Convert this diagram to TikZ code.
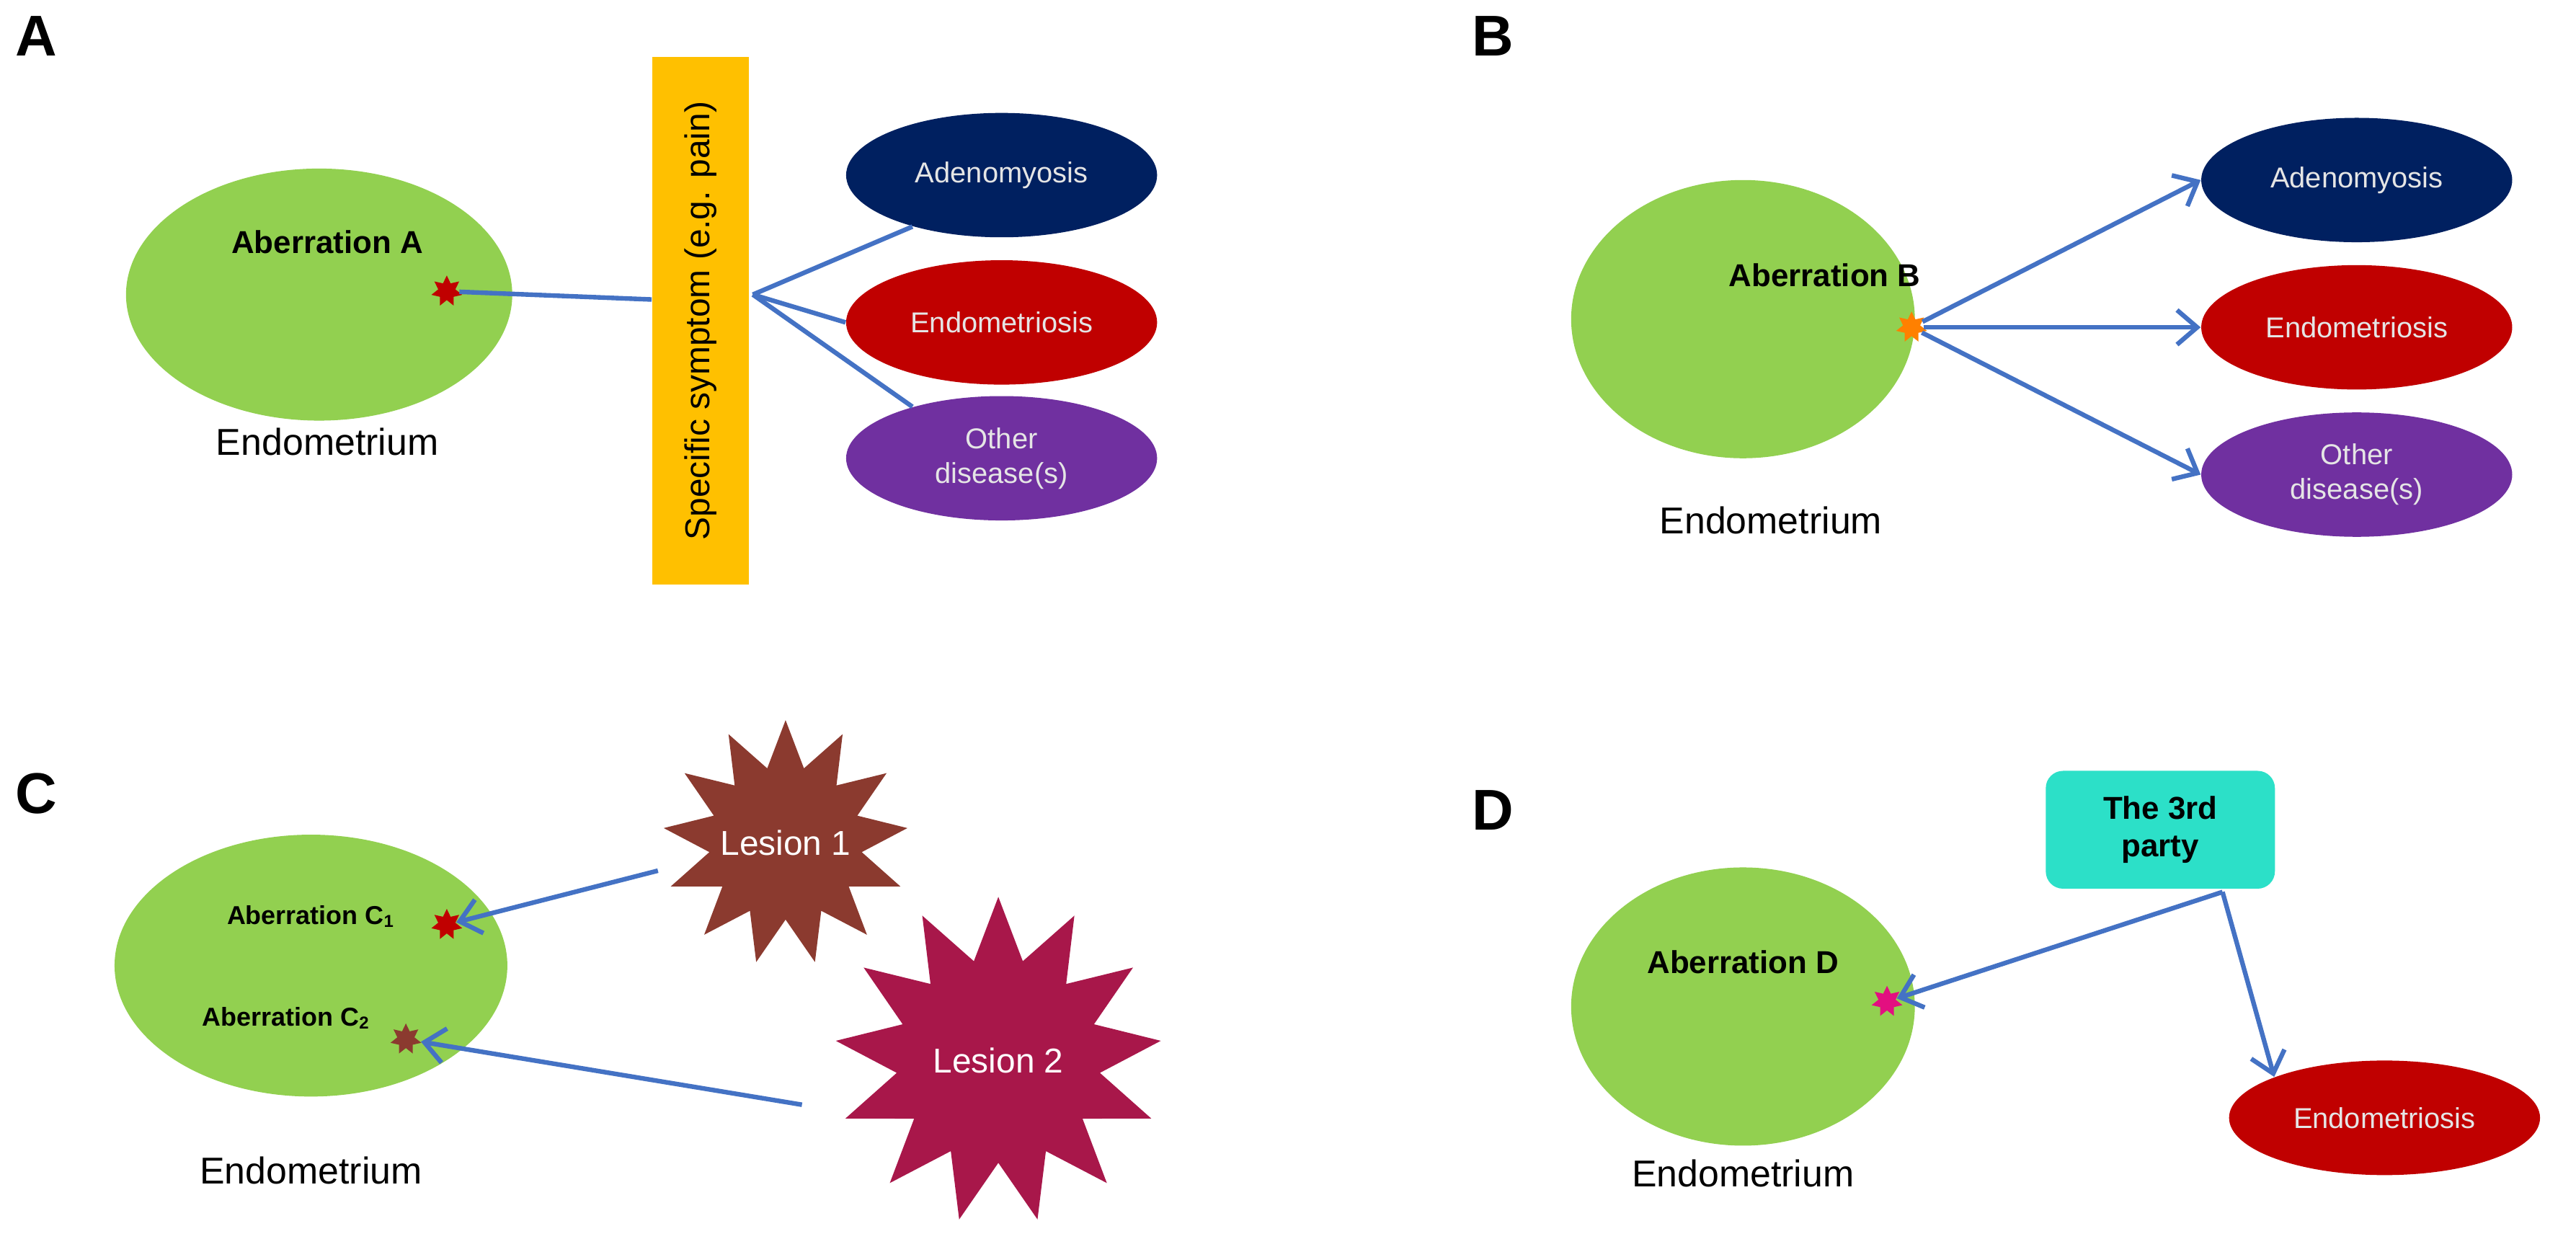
\documentclass[tikz,border=0pt]{standalone}
\usepackage{fontspec}
\setmainfont{Liberation Sans}
\usetikzlibrary{shapes.geometric,arrows.meta}
\definecolor{tissue}{HTML}{92D050}
\definecolor{navy}{HTML}{002060}
\definecolor{dred}{HTML}{C00000}
\definecolor{purp}{HTML}{7030A0}
\definecolor{arr}{HTML}{4472C4}
\definecolor{symp}{HTML}{FFC000}
\definecolor{les1}{HTML}{8B3A2F}
\definecolor{les2}{HTML}{A8174A}
\definecolor{third}{HTML}{2CE0C8}
\begin{document}
\begin{tikzpicture}[x=0.02cm,y=-0.02cm,
  tissue/.style={ellipse,fill=tissue,minimum width=#1},
  dis/.style={ellipse,fill=#1,text=white!90!black,minimum width=190*0.02cm,minimum height=76*0.02cm,align=center,font=\fontsize{10}{12}\selectfont},
  spot/.style={star,star points=7,star point ratio=1.8,fill=#1,inner sep=0pt,minimum size=11pt},
  lbl/.style={font=\bfseries\fontsize{11}{13}\selectfont},
  endo/.style={font=\fontsize{13}{15}\selectfont},
  panel/.style={font=\bfseries\fontsize{20}{22}\selectfont},
  link/.style={draw=arr,line width=1.6pt},
  arrow/.style={link,-{Straight Barb[length=7pt,width=12pt]}},
  lesion/.style={star,star points=13,star point ratio=1.6,fill=#1,inner sep=0pt}]
\useasboundingbox (0,0) rectangle (1574,757);
% panel A
\node[panel] (pa) at (22,22) {A};
\node[tissue, minimum width=236*0.02cm, minimum height=154*0.02cm] (ea) at (195,180) {};
\node[lbl] (la) at (200,148) {Aberration A};
\node[spot=dred] (sa) at (273,178) {};
\node[endo] (ta) at (200,270) {Endometrium};
\node[fill=symp,minimum width=59*0.02cm,minimum height=322*0.02cm,inner sep=0pt] (sy) at (428,196) {};
\node[rotate=90,font=\fontsize{12}{14}\selectfont] (syt) at (sy) {Specific symptom (e.g. pain)};
\coordinate (hub) at (460,180);
\node[dis=navy] (a1) at (612,107) {Adenomyosis};
\node[dis=dred] (a2) at (612,197) {Endometriosis};
\node[dis=purp] (a3) at (612,280) {Other\\disease(s)};
\draw[link] (sa) -- (sy.west |- 0,183);
\draw[link] (hub) -- (a1.210);
\draw[link] (hub) -- (a2.west);
\draw[link] (hub) -- (a3.150);
% panel B
\node[panel] (pb) at (912,22) {B};
\node[tissue, minimum width=210*0.02cm, minimum height=170*0.02cm] (eb) at (1065,195) {};
\node[lbl] (lb) at (1115,168) {Aberration B};
\node[spot=orange] (sb) at (1168,200) {};
\node[endo] (tb) at (1082,318) {Endometrium};
\node[dis=navy] (b1) at (1440,110) {Adenomyosis};
\node[dis=dred] (b2) at (1440,200) {Endometriosis};
\node[dis=purp] (b3) at (1440,290) {Other\\disease(s)};
\draw[arrow] (sb) -- (b1.west);
\draw[arrow] (sb) -- (b2.west);
\draw[arrow] (sb) -- (b3.west);
% panel C
\node[panel] (pc) at (22,485) {C};
\node[tissue, minimum width=240*0.02cm, minimum height=160*0.02cm] (ec) at (190,590) {};
\node[lbl,font=\bfseries\fontsize{9}{11}\selectfont] (lc1) at (190,560) {Aberration C$_{\mathbf 1}$};
\node[spot=dred] (sc1) at (273,565) {};
\node[lbl,font=\bfseries\fontsize{9}{11}\selectfont] (lc2) at (175,622) {Aberration C$_{\mathbf 2}$};
\node[spot=les1] (sc2) at (248,635) {};
\node[endo] (tc) at (190,715) {Endometrium};
\node[lesion=les1,minimum size=150*0.02cm] (l1) at (480,515) {};
\node[text=white,font=\fontsize{12}{14}\selectfont] (l1t) at (l1) {Lesion 1};
\node[lesion=les2,minimum size=200*0.02cm] (l2) at (610,648) {};
\node[text=white,font=\fontsize{12}{14}\selectfont] (l2t) at (l2) {Lesion 2};
\coordinate (l1e) at (402,532);
\coordinate (l2e) at (490,675);
\draw[arrow] (l1e) -- (sc1);
\draw[arrow] (l2e) -- (sc2);
% panel D
\node[panel] (pd) at (912,495) {D};
\node[tissue, minimum width=210*0.02cm, minimum height=170*0.02cm] (ed) at (1065,615) {};
\node[lbl] (ld) at (1065,588) {Aberration D};
\node[spot=magenta!80!purple] (sd) at (1153,612) {};
\node[endo] (td) at (1065,717) {Endometrium};
\node[fill=third,rounded corners=6pt,minimum width=140*0.02cm,minimum height=72*0.02cm,align=center,lbl] (tp) at (1320,507) {The 3rd\\party};
\node[dis=dred,minimum height=70*0.02cm] (d1) at (1457,683) {Endometriosis};
\coordinate (tpb) at (1358,545);
\draw[arrow] (tpb) -- (sd);
\draw[arrow] (tpb) -- (d1.north west);
\end{tikzpicture}
\end{document}
